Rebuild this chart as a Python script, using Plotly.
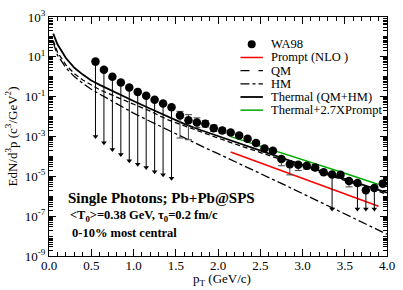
import plotly.graph_objects as go

# ---------------- data ----------------
# WA98 upper limits (points with downward arrows)
ul_pt = [0.55, 0.65, 0.75, 0.85, 0.95, 1.05, 1.15, 1.25, 1.35, 1.45, 3.35, 3.65, 3.75, 3.85]
ul_val = [5.75, 2.25, 0.99, 0.52, 0.286, 0.174, 0.111, 0.0705, 0.0449, 0.0292,
          1.24e-5, 4.6e-6, 2.0e-6, 2.6e-6]
ul_end = [1.0e-3, 4.8e-4, 2.2e-4, 1.26e-4, 6.0e-5, 4.1e-5, 2.8e-5, 1.7e-5, 1.2e-5, 8.1e-6,
          2.3e-7, 2.3e-7, 2.3e-7, 2.3e-7]

# WA98 measured points with error bars
ms_pt = [1.55, 1.65, 1.75, 1.85, 1.95, 2.05, 2.15, 2.25, 2.35, 2.45, 2.55, 2.65, 2.75, 2.85,
         2.95, 3.05, 3.15, 3.25, 3.45, 3.55, 3.95]
ms_val = [0.0112, 0.0066, 0.0051, 0.0044, 0.0026, 0.0020, 0.0016, 0.00113, 7.7e-4, 4.7e-4,
          2.5e-4, 1.9e-4, 7.5e-5, 4.0e-5, 3.8e-5, 3.4e-5, 2.8e-5, 1.6e-5, 1.21e-5, 5.8e-6, 4.3e-6]
ms_hi = [0.0182, 0.0125, 8.6e-3, 6.4e-3, 3.8e-3, 2.65e-3, 1.99e-3, 1.42e-3, 9.7e-4, 5.9e-4,
         3.1e-4, 2.4e-4, 9.4e-5, 4.95e-5, 4.8e-5, 4.3e-5, 3.9e-5, 2.0e-5, 1.56e-5, 6.5e-6, 4.3e-6]
ms_lo = [8.4e-4, 6.9e-4, 2.8e-3, 3.0e-3, 1.78e-3, 1.47e-3, 1.27e-3, 9.0e-4, 6.1e-4, 3.8e-4,
         2.0e-4, 1.53e-4, 3.4e-5, 1.18e-5, 1.95e-5, 2.3e-5, 2.5e-5, 1.28e-5, 1.08e-5, 2.96e-6, 4.3e-6]

# theory curves
th_pt = [0.05, 0.1, 0.2, 0.3, 0.4, 0.5, 0.6, 0.8, 1.0, 1.2, 1.4, 1.6, 1.8, 2.0, 2.2, 2.5,
         2.8, 3.1, 3.4, 3.7, 4.0]
thermal = [147, 42.4, 8.73, 2.82, 1.28, 0.652, 0.392, 0.150, 0.0608, 0.0247, 0.0100, 4.29e-3,
           2.06e-3, 1.05e-3, 5.31e-4, 1.92e-4, 6.97e-5, 2.67e-5, 1.02e-5, 3.92e-6, 1.50e-6]
qm = [66.7, 17.2, 3.96, 1.44, 0.689, 0.392, 0.223, 0.0955, 0.0434, 0.0186, 7.13e-3, 3.42e-3,
      1.64e-3, 8.36e-4, 4.24e-4, 1.53e-4, 5.89e-5, 2.25e-5, 8.63e-6, 3.31e-6, 1.27e-6]
hm = [53.1, 12.2, 2.82, 1.02, 0.465, 0.236, 0.134, 0.0434, 0.0149, 5.69e-3, 2.18e-3, 8.53e-4,
      3.38e-4, 1.37e-4, 5.56e-5, 1.36e-5, 3.50e-6, 8.53e-7, 2.08e-7, 5.08e-8, 1.24e-8]

pr_pt = [2.15, 2.5, 3.0, 3.5, 3.9]
prompt = [1.66e-4, 4.74e-5, 7.89e-6, 1.31e-6, 3.13e-7]
sum_total = [9.89e-4, 3.38e-4, 6.97e-5, 1.44e-5, 3.92e-6]

y_tickvals = [1e3, 1e1, 1e-1, 1e-3, 1e-5, 1e-7, 1e-9]
y_ticktext = ["10<sup>3</sup>", "10<sup>1</sup>", "10<sup>-1</sup>", "10<sup>-3</sup>",
              "10<sup>-5</sup>", "10<sup>-7</sup>", "10<sup>-9</sup>"]

legend_labels = ["WA98", "Prompt (NLO )", "QM", "HM", "Thermal (QM+HM)", "Thermal+2.7XPrompt"]

FONT = "Liberation Serif"

# ---------------- figure ----------------
fig = go.Figure()

fig.add_trace(go.Scatter(x=th_pt, y=hm, mode="lines", name="HM",
                         line=dict(color="black", width=1.3, dash="dashdot"), showlegend=False))
fig.add_trace(go.Scatter(x=th_pt, y=qm, mode="lines", name="QM",
                         line=dict(color="black", width=1.3, dash="5px,3px"), showlegend=False))
fig.add_trace(go.Scatter(x=th_pt, y=thermal, mode="lines", name="Thermal (QM+HM)",
                         line=dict(color="black", width=1.8), showlegend=False))
fig.add_trace(go.Scatter(x=pr_pt, y=prompt, mode="lines", name="Prompt (NLO )",
                         line=dict(color="red", width=1.5), showlegend=False))
fig.add_trace(go.Scatter(x=pr_pt, y=sum_total, mode="lines", name="Thermal+2.7XPrompt",
                         line=dict(color="#00aa00", width=1.5), showlegend=False))

# upper limits: line down to arrow end
fig.add_trace(go.Scatter(
    x=ul_pt, y=ul_val, mode="markers", name="WA98", showlegend=False,
    marker=dict(color="black", size=8.5),
    error_y=dict(type="data", symmetric=False,
                 array=[0] * len(ul_val),
                 arrayminus=[v - e for v, e in zip(ul_val, ul_end)],
                 width=0, thickness=1, color="black")))
fig.add_trace(go.Scatter(
    x=ul_pt, y=ul_end, mode="markers", name="WA98 limit", showlegend=False,
    marker=dict(color="black", size=5, symbol="triangle-down")))

# measured points
fig.add_trace(go.Scatter(
    x=ms_pt, y=ms_val, mode="markers", name="WA98", showlegend=False,
    marker=dict(color="black", size=8.5),
    error_y=dict(type="data", symmetric=False,
                 array=[h - v for h, v in zip(ms_hi, ms_val)],
                 arrayminus=[v - l for v, l in zip(ms_val, ms_lo)],
                 width=3.5, thickness=1, color="#444444")))

# ---------------- manual legend ----------------
L, R, T, B = 49, 8, 11, 34
W, H = 403, 290
pw, ph = W - L - R, H - T - B


def px(xp):
    return (xp - L) / pw


def py(yp):
    return (H - B - yp) / ph


rows = [39, 52.5, 66, 79.5, 93, 106.5]
styles = [None,
          dict(color="red", width=1.5),
          dict(color="black", width=1.3, dash="dash"),
          dict(color="black", width=1.3, dash="dashdot"),
          dict(color="black", width=1.8),
          dict(color="#00aa00", width=1.5)]
shapes = []
annotations = []
for lab, r, st in zip(legend_labels, rows, styles):
    if st is None:
        shapes.append(dict(type="circle", xref="paper", yref="paper",
                           xsizemode="pixel", ysizemode="pixel",
                           xanchor=px(256.5), yanchor=py(r),
                           x0=-4, x1=4, y0=-4, y1=4,
                           fillcolor="black", line=dict(color="black", width=0)))
    else:
        shapes.append(dict(type="line", xref="paper", yref="paper",
                           x0=px(245), x1=px(268), y0=py(r), y1=py(r), line=st))
    annotations.append(dict(text=lab, xref="paper", yref="paper", x=px(274), y=py(r),
                            xanchor="left", yanchor="middle", showarrow=False,
                            font=dict(family=FONT, size=12.5, color="black")))

annotations += [
    dict(text="<b>Single Photons; Pb+Pb@SPS</b>", xref="paper", yref="paper",
         x=px(66), y=py(197), xanchor="left", yanchor="middle", showarrow=False,
         font=dict(family=FONT, size=15, color="black")),
    dict(text="<b>&lt;T<sub>0</sub>&gt;=0.38 GeV, τ<sub>0</sub>=0.2 fm/c</b>", xref="paper", yref="paper",
         x=px(68), y=py(215), xanchor="left", yanchor="middle", showarrow=False,
         font=dict(family=FONT, size=12.5, color="black")),
    dict(text="<b>0-10% most central</b>", xref="paper", yref="paper",
         x=px(70), y=py(232), xanchor="left", yanchor="middle", showarrow=False,
         font=dict(family=FONT, size=12.5, color="black")),
    dict(text="p<sub>T</sub> (GeV/c)", xref="paper", yref="paper",
         x=px(226), y=py(280), xanchor="center", yanchor="middle", showarrow=False,
         font=dict(family=FONT, size=13, color="black")),
]

fig.update_layout(
    width=W, height=H,
    margin=dict(l=L, r=R, t=T, b=B, pad=0),
    paper_bgcolor="white", plot_bgcolor="white",
    showlegend=False,
    font=dict(family=FONT, size=13, color="black"),
    shapes=shapes, annotations=annotations,
    xaxis=dict(range=[0, 4], dtick=0.5, tick0=0, tickformat=".1f",
               ticks="inside", ticklen=7, tickwidth=1, tickcolor="black",
               ticklabelstandoff=-3,
               minor=dict(dtick=0.1, ticks="inside", ticklen=4, tickcolor="black", showgrid=False),
               showline=True, linecolor="black", linewidth=1, mirror="ticks",
               showgrid=False, zeroline=False,
               tickfont=dict(family=FONT, size=13, color="black")),
    yaxis=dict(type="log", range=[-9, 3],
               tickvals=y_tickvals, ticktext=y_ticktext,
               ticks="inside", ticklen=7, tickwidth=1, tickcolor="black",
               minor=dict(dtick="D1", ticks="inside", ticklen=4, tickcolor="black", showgrid=False),
               showline=True, linecolor="black", linewidth=1, mirror="ticks",
               showgrid=False, zeroline=False,
               tickfont=dict(family=FONT, size=13, color="black"),
               title=dict(text="EdN/d<sup>3</sup>p (c<sup>3</sup>/GeV<sup>2</sup>)", standoff=4,
                          font=dict(family=FONT, size=13, color="black"))),
)

fig.write_html("out.html", config={"displayModeBar": False},
               post_script="document.body.style.margin='0px';")
